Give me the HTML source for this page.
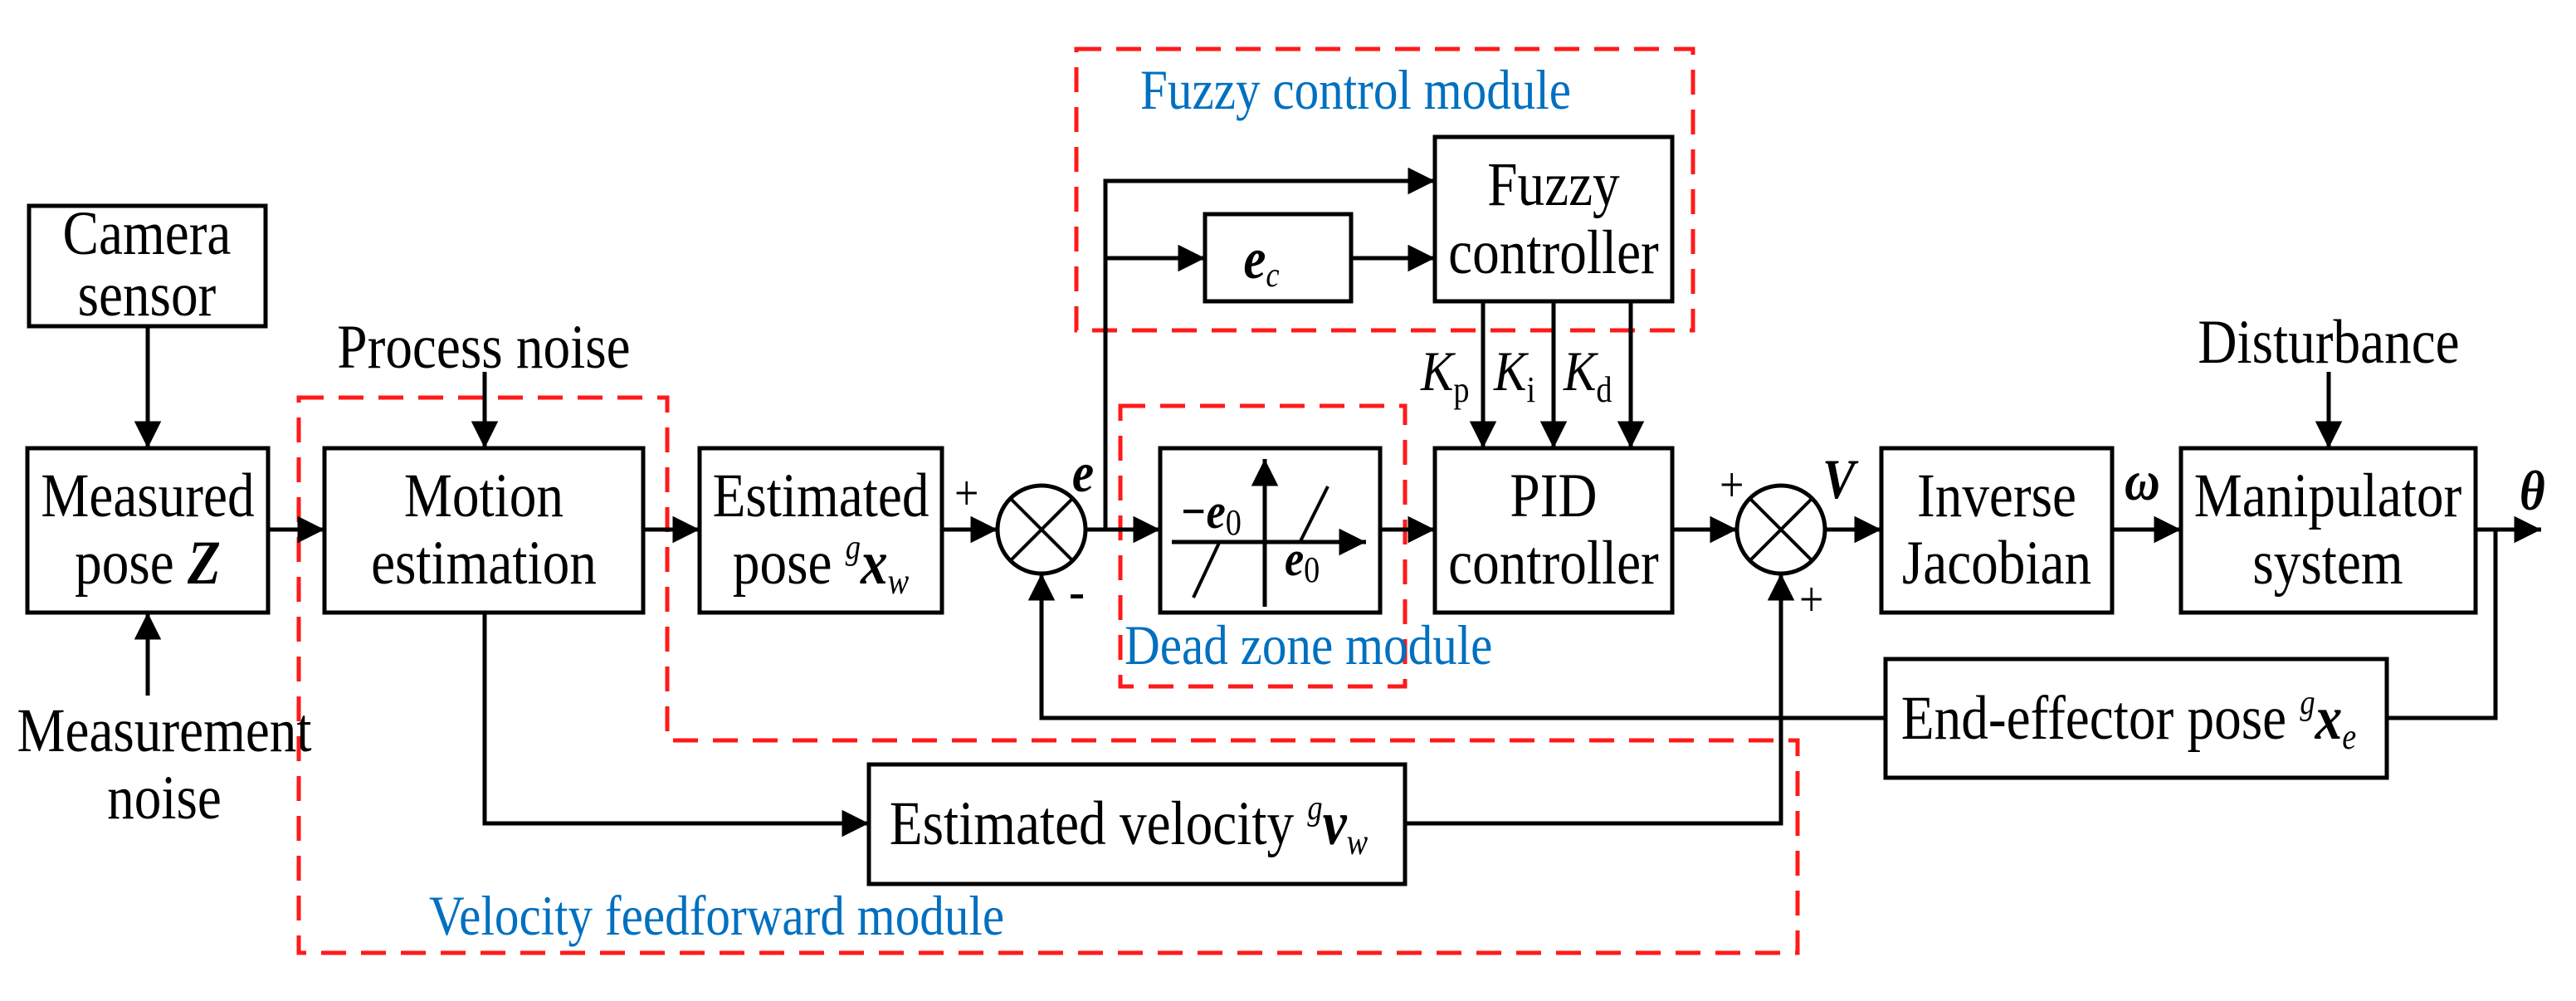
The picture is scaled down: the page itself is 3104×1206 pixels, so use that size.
<!DOCTYPE html>
<html><head><meta charset="utf-8"><style>
html,body{margin:0;padding:0;background:#fff}
svg{display:block}
text{font-family:"Liberation Serif",serif;fill:#000}
.t{font-size:75px;text-anchor:middle}
.b{font-size:68px;fill:#0070c0}
</style></head><body>
<svg width="3104" height="1206" viewBox="0 0 3104 1206" xmlns="http://www.w3.org/2000/svg">
<defs>
<marker id="a" viewBox="0 0 10 10" refX="10" refY="5" markerWidth="7" markerHeight="6.5" markerUnits="strokeWidth" orient="auto"><path d="M0,0L10,5L0,10z" fill="#000"/></marker>
</defs>
<g fill="none" stroke="#ff1a1a" stroke-width="5" stroke-dasharray="30,18">
<path d="M1297,59H2040V398H1297Z"/>
<path d="M1350,489H1693V827H1350Z"/>
<path d="M360,479H804V892H2166V1148H360Z"/>
</g>
<g fill="#fff" stroke="#000" stroke-width="5">
<rect x="35" y="248" width="285" height="145"/>
<rect x="33" y="540" width="290" height="198"/>
<rect x="391" y="540" width="384" height="198"/>
<rect x="843" y="540" width="292" height="198"/>
<rect x="1452" y="258" width="176" height="105"/>
<rect x="1729" y="165" width="286" height="198"/>
<rect x="1398" y="540" width="265" height="198"/>
<rect x="1729" y="540" width="286" height="198"/>
<rect x="2267" y="540" width="278" height="198"/>
<rect x="2628" y="540" width="355" height="198"/>
<rect x="2272" y="794" width="604" height="143"/>
<rect x="1047" y="921" width="646" height="144"/>
<circle cx="1255" cy="638" r="53"/>
<circle cx="2146" cy="638" r="53"/>
</g>
<g stroke="#000" stroke-width="4">
<path d="M1218,601L1292,675M1292,601L1218,675M2109,601L2183,675M2183,601L2109,675"/>
</g>
<g fill="none" stroke="#000" stroke-width="5" marker-end="url(#a)">
<path d="M178,393V540"/>
<path d="M178,838V738"/>
<path d="M323,638H391"/>
<path d="M584,448V540"/>
<path d="M775,638H843"/>
<path d="M1135,638H1202"/>
<path d="M1308,638H1398"/>
<path d="M1332,638V218H1729"/>
<path d="M1332,311H1452"/>
<path d="M1628,311H1729"/>
<path d="M1663,638H1729"/>
<path d="M1787,363V540"/>
<path d="M1872,363V540"/>
<path d="M1965,363V540"/>
<path d="M2015,638H2093"/>
<path d="M2199,638H2267"/>
<path d="M2545,638H2628"/>
<path d="M2806,448V540"/>
<path d="M2983,638H3062"/>
<path d="M2272,865H1255V691"/>
<path d="M584,738V992H1047"/>
<path d="M1693,992H2146V691"/>
<path d="M1524,731V553"/>
<path d="M1412,653H1646"/>
</g>
<path d="M3007,638V865H2876" fill="none" stroke="#000" stroke-width="5"/>
<path d="M1438,720L1469,654M1567,652L1600,586" stroke="#000" stroke-width="4"/>
<g transform="scale(0.87 1)">
<text class="t" x="203.4" y="306">Camera</text>
<text class="t" x="203.4" y="380">sensor</text>
<text class="t" x="204.6" y="622">Measured</text>
<text class="t" x="204.6" y="703">pose <tspan font-style="italic" font-weight="bold">Z</tspan></text>
<text class="t" x="670.1" y="622">Motion</text>
<text class="t" x="670.1" y="703">estimation</text>
<text class="t" x="1136.8" y="622">Estimated</text>
<text class="t" x="1136.8" y="703">pose <tspan font-size="42" font-style="italic" dy="-30">g</tspan><tspan font-style="italic" font-weight="bold" dy="30">x</tspan><tspan font-size="44" font-style="italic" dy="12">w</tspan></text>
<text class="t" x="670.1" y="443">Process noise</text>
<text class="t" x="227.6" y="905">Measurement</text>
<text class="t" x="227.6" y="986">noise</text>
<text class="t" x="2151.7" y="247">Fuzzy</text>
<text class="t" x="2151.7" y="329">controller</text>
<text class="t" x="2151.7" y="622">PID</text>
<text class="t" x="2151.7" y="703">controller</text>
<text class="t" x="2765.5" y="622">Inverse</text>
<text class="t" x="2765.5" y="703">Jacobian</text>
<text class="t" x="3224.1" y="622">Manipulator</text>
<text class="t" x="3224.1" y="703">system</text>
<text class="t" x="3225.3" y="437">Disturbance</text>
<text class="t" x="2948.3" y="890">End-effector pose <tspan font-size="42" font-style="italic" dy="-30">g</tspan><tspan font-style="italic" font-weight="bold" dy="30">x</tspan><tspan font-size="44" font-style="italic" dy="12">e</tspan></text>
<text class="t" x="1563.2" y="1017">Estimated velocity  <tspan font-size="42" font-style="italic" dy="-30">g</tspan><tspan font-style="italic" font-weight="bold" dy="30">v</tspan><tspan font-size="44" font-style="italic" dy="12">w</tspan></text>
<text x="1747.1" y="335" font-size="70" font-style="italic" font-weight="bold" text-anchor="middle">e<tspan font-size="42" font-weight="normal" dy="10">c</tspan></text>
<text x="1634.5" y="636" font-size="60" font-style="italic" font-weight="bold">−e<tspan font-size="44" font-weight="normal" font-style="normal" dy="8">0</tspan></text>
<text x="1779.3" y="693" font-size="60" font-style="italic" font-weight="bold">e<tspan font-size="44" font-weight="normal" font-style="normal" dy="8">0</tspan></text>
<text x="1967.8" y="470" font-size="68" font-style="italic">K<tspan font-size="44" font-style="normal" dy="14">p</tspan></text>
<text x="2069" y="470" font-size="68" font-style="italic">K<tspan font-size="44" font-style="normal" dy="14">i</tspan></text>
<text x="2165.5" y="470" font-size="68" font-style="italic">K<tspan font-size="44" font-style="normal" dy="14">d</tspan></text>
<text x="1321.8" y="614" font-size="60">+</text>
<text x="1480.5" y="734" font-size="66">-</text>
<text x="1485" y="592" font-size="68" font-style="italic" font-weight="bold">e</text>
<text x="2381.6" y="604" font-size="60">+</text>
<text x="2492" y="742" font-size="60">+</text>
<text x="2524.1" y="600" font-size="68" font-style="italic" font-weight="bold">V</text>
<text x="2942.5" y="602" font-size="68" font-style="italic" font-weight="bold">ω</text>
<text x="3489.7" y="614" font-size="68" font-style="italic" font-weight="bold">θ</text>
<text class="b" x="1579.3" y="131">Fuzzy control module</text>
<text class="b" x="1557.5" y="800">Dead zone module</text>
<text class="b" x="594.3" y="1126">Velocity feedforward module</text>
</g>
</svg>
</body></html>
